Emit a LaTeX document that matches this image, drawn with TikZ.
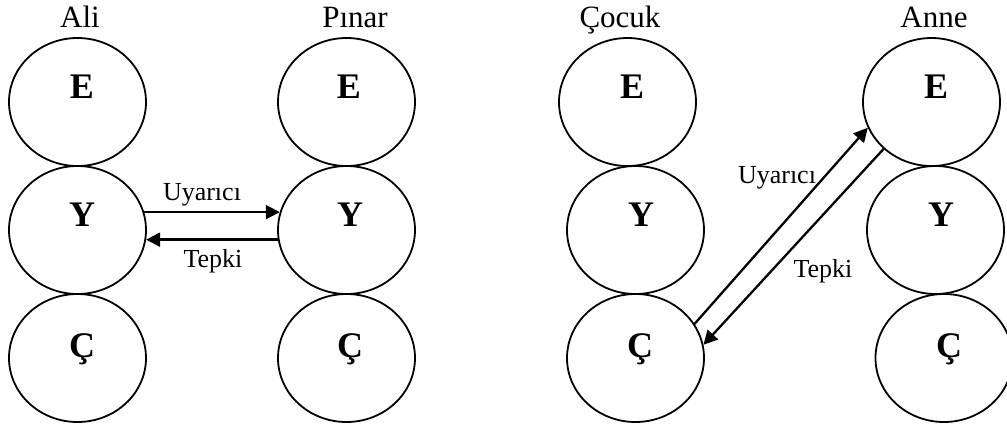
\documentclass[tikz,border=0pt]{standalone}
\usepackage{fontspec}
\setmainfont{Liberation Serif}
\usetikzlibrary{shapes.geometric,arrows.meta}
\begin{document}
\begin{tikzpicture}[x=1pt,y=-1pt,
  ell/.style={draw,ellipse,line width=1.8pt,minimum width=137pt,minimum height=128pt,inner sep=0pt},
  bigletter/.style={anchor=base,inner sep=0pt,font=\fontsize{36}{36}\selectfont\bfseries},
  personname/.style={anchor=base,inner sep=0pt,font=\fontsize{31}{31}\selectfont},
  arrlab/.style={anchor=base,inner sep=0pt,font=\fontsize{26}{26}\selectfont},
  arr/.style={line width=2.3pt,-{Triangle[length=14pt,width=14pt]}}]
\useasboundingbox (0,0) rectangle (1007,429);
% Ali
\node[ell] (aE) at (77.5,102) {};
\node[ell] (aY) at (77.5,230) {};
\node[ell] (aC) at (77.5,358) {};
\node[bigletter] (aEl) at (82,98) {E};
\node[bigletter] (aYl) at (82,226) {Y};
\node[bigletter] (aCl) at (82,357) {Ç};
\node[personname] (ali) at (80,27) {Ali};
% Pinar
\node[ell] (pE) at (346.5,102) {};
\node[ell] (pY) at (346.5,230) {};
\node[ell] (pC) at (346.5,358) {};
\node[bigletter] (pEl) at (349,98) {E};
\node[bigletter] (pYl) at (350,226) {Y};
\node[bigletter] (pCl) at (350,357) {Ç};
\node[personname] (pinar) at (355,27) {Pınar};
% Cocuk
\node[ell] (cE) at (627.5,102) {};
\node[ell] (cY) at (635.5,230) {};
\node[ell] (cC) at (635.5,358) {};
\node[bigletter] (cEl) at (632,98) {E};
\node[bigletter] (cYl) at (641,226) {Y};
\node[bigletter] (cCl) at (640,357) {Ç};
\node[personname] (cocuk) at (620,27) {Çocuk};
% Anne
\node[ell] (nE) at (931.5,102) {};
\node[ell] (nY) at (935.5,230) {};
\node[ell] (nC) at (944,358) {};
\node[bigletter] (nEl) at (936,98) {E};
\node[bigletter] (nYl) at (941,226) {Y};
\node[bigletter] (nCl) at (949,357) {Ç};
\node[personname] (anne) at (934,27) {Anne};
% left arrows
\draw[arr] (aY.15) -- (pY.165);
\draw[arr] (pY.188) -- (aY.352);
\node[arrlab] (u1) at (202,200) {Uyarıcı};
\node[arrlab] (t1) at (213,267) {Tepki};
% right arrows
\draw[arr] (cC.30.5) -- (nE.202);
\draw[arr] ([shift={(2pt,-2pt)}]nE.222) -- (cC.11);
\node[arrlab] (u2) at (777,183) {Uyarıcı};
\node[arrlab] (t2) at (823,277) {Tepki};
\end{tikzpicture}
\end{document}
